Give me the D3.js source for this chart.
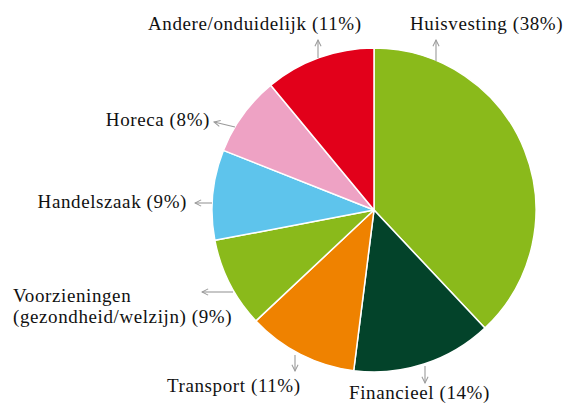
<!DOCTYPE html>
<html><head><meta charset="utf-8">
<script src="https://cdn.jsdelivr.net/npm/d3@7"></script>
<style>
html,body{margin:0;padding:0;background:#fff;}
svg{display:block;}
text{font-family:"Liberation Serif",serif;font-size:19px;fill:#111;letter-spacing:0.6px;}
</style></head>
<body>
<svg id="chart" width="572" height="405"></svg>
<script>
const categories = ["Huisvesting","Financieel","Transport","Voorzieningen (gezondheid/welzijn)","Handelszaak","Horeca","Andere/onduidelijk"];
const values = [38,14,11,9,9,8,11];
const colors = ["#8aba1b","#03432a","#ef8200","#8aba1b","#5ec4ec","#eea2c4","#e2001a"];
const labelLines = [["Huisvesting (38%)"],["Financieel (14%)"],["Transport (11%)"],["Voorzieningen","(gezondheid/welzijn) (9%)"],["Handelszaak (9%)"],["Horeca (8%)"],["Andere/onduidelijk (11%)"]];

// layout (positions of labels and arrows)
const layout = [
  {tx:410, ty:30, anchor:"start", a:[436,61,436,40]},
  {tx:349, ty:399, anchor:"start", a:[425,366,425,383]},
  {tx:167, ty:392, anchor:"start", a:[295,355,295,371]},
  {tx:13, ty:302, anchor:"start", a:[233,292,202,292]},
  {tx:187, ty:208, anchor:"end", a:[212,203,195,203]},
  {tx:210, ty:126, anchor:"end", a:[235,127,214,122]},
  {tx:148, ty:30, anchor:"start", a:[318,58,318,40]}
];

const svg = d3.select("#chart");
const cx = 374, cy = 210, r = 162;

svg.append("defs").append("marker")
  .attr("id","ah").attr("viewBox","0 0 10 10").attr("refX",9).attr("refY",5)
  .attr("markerWidth",7).attr("markerHeight",7).attr("orient","auto")
  .append("path").attr("d","M1,1 L9,5 L1,9").attr("fill","none").attr("stroke","#9a9a9a").attr("stroke-width",1.3);

const pie = d3.pie().sort(null).value(d => d)(values);
const arc = d3.arc().innerRadius(0).outerRadius(r);
const g = svg.append("g").attr("transform",`translate(${cx},${cy})`);
g.selectAll("path").data(pie).join("path")
  .attr("d", arc)
  .attr("fill", (d,i) => colors[i])
  .attr("stroke","#fff").attr("stroke-width",1.5).attr("stroke-linejoin","round");

layout.forEach((L,i) => {
  svg.append("line")
    .attr("x1",L.a[0]).attr("y1",L.a[1]).attr("x2",L.a[2]).attr("y2",L.a[3])
    .attr("stroke","#9a9a9a").attr("stroke-width",1.1).attr("marker-end","url(#ah)");
  const t = svg.append("text").attr("x",L.tx).attr("y",L.ty).attr("text-anchor",L.anchor);
  labelLines[i].forEach((ln,j) => {
    t.append("tspan").attr("x",L.tx).attr("dy", j===0?0:21).text(ln);
  });
});
</script>
</body></html>
